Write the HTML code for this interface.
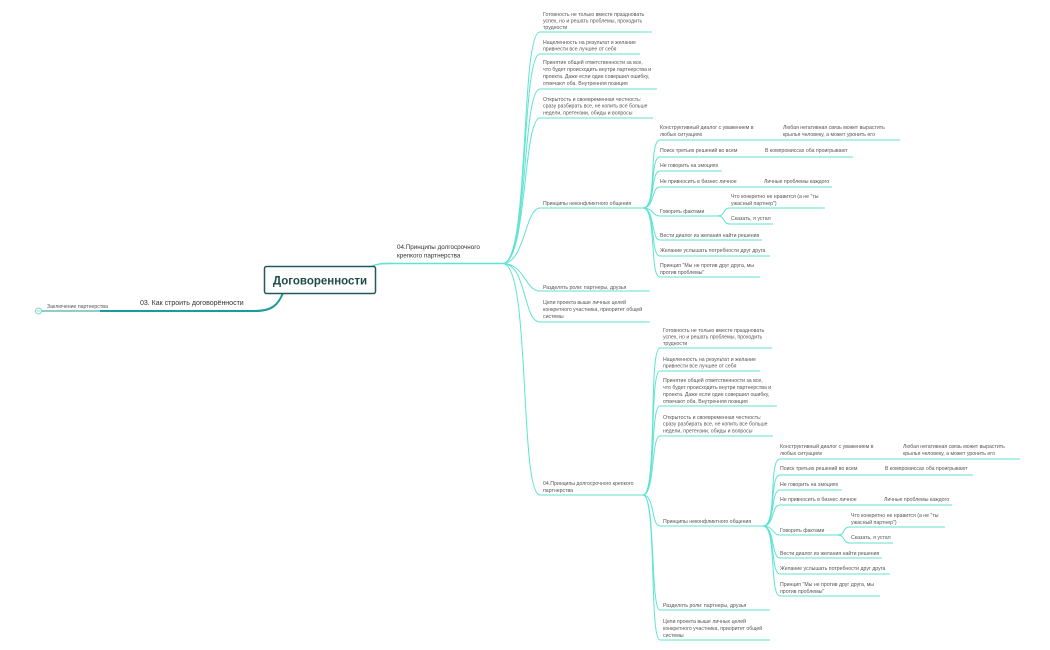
<!DOCTYPE html>
<html><head><meta charset="utf-8"><style>
html,body{margin:0;padding:0;background:#fff;}
svg{display:block;}
text{font-family:"Liberation Sans",sans-serif;}
.t{font-size:5.2px;fill:#555;}
.u{stroke:#5fe3d2;stroke-width:1;fill:none;}
</style></head><body>
<svg width="1050" height="650" viewBox="0 0 1050 650" xmlns="http://www.w3.org/2000/svg">
<!-- left -->
<path d="M283 293 C278 305 272 311 255 311 L100 311" stroke="#1b9c98" stroke-width="2" fill="none"/>
<path d="M100 311 L42 311" stroke="#1b9c98" stroke-width="1" fill="none"/>
<circle cx="38.5" cy="311" r="3" fill="#fff" stroke="#5fc9c0" stroke-width="0.8"/>
<line x1="36.5" y1="311" x2="40.5" y2="311" stroke="#5fc9c0" stroke-width="0.7"/>
<text x="47" y="308" class="t">Заключение партнерства</text>
<text x="140" y="305" style="font-size:7px;fill:#333">03. Как строить договорённости</text>
<!-- center -->
<path d="M372 266 C380 263 385 263.5 395 263.5 L503 263.5" stroke="#5fe3d2" stroke-width="1.6" fill="none"/>
<rect x="264.5" y="266.5" width="111" height="27" rx="2" fill="#fff" stroke="#23595a" stroke-width="1.5"/>
<text x="320" y="284.5" text-anchor="middle" style="font-size:11.5px;font-weight:bold;fill:#1f4a4a">Договоренности</text>
<text x="397" y="249" style="font-size:6.3px;fill:#333">04.Принципы долгосрочного</text>
<text x="397" y="257.5" style="font-size:6.3px;fill:#333">крепкого партнерства</text>

<!-- block 1 branches -->
<g class="u">
<path d="M503 263.5 C530 263 520 32 540 32 L652 32"/>
<path d="M503 263.5 C529 263 521 54 540 54 L640 54"/>
<path d="M503 263.5 C528 263 522 89 540 89 L657 89"/>
<path d="M503 263.5 C527 263 523 118 540 118 L653 118"/>
<path d="M503 263.5 C525 263 525 208 540 208 L643 208"/>
<path d="M503 263.5 C525 264 525 291 540 291 L650 291"/>
<path d="M503 263.5 C527 264 523 322 540 322 L650 322"/>
<path d="M503 263.5 C531 264 519 495 540 495 L643 495"/>
</g>
<g class="t">
<text x="543" y="16">Готовность не только вместе праздновать</text>
<text x="543" y="22.5">успех, но и решать проблемы, проходить</text>
<text x="543" y="29">трудности</text>
<text x="543" y="44">Нацеленность на результат и желание</text>
<text x="543" y="50.5">привнести все лучшее от себя</text>
<text x="543" y="64">Принятие общей ответственности за все,</text>
<text x="543" y="71">что будет происходить внутри партнерства и</text>
<text x="543" y="78">проекта. Даже если один совершил ошибку,</text>
<text x="543" y="85">отвечают оба. Внутренняя позиция</text>
<text x="543" y="101">Открытость и своевременная честность:</text>
<text x="543" y="107.5">сразу разбирать все, не копить все больше</text>
<text x="543" y="114.5">недели, претензии, обиды и вопросы</text>
<text x="543" y="205">Принципы неконфликтного общения</text>
<text x="543" y="289">Разделять роли: партнеры, друзья</text>
<text x="543" y="304">Цели проекта выше личных целей</text>
<text x="543" y="311">конкретного участника, приоритет общей</text>
<text x="543" y="318">системы</text>
<text x="543" y="485">04.Принципы долгосрочного крепкого</text>
<text x="543" y="492">партнерства</text>
</g>
<!-- block 1 sub -->
<g class="u">
<path d="M643 208 C658 208 648 140 660 140 L900 140"/>
<path d="M643 208 C657 208 649 157 660 157 L853 157"/>
<path d="M643 208 C656 208 650 171 660 171 L722 171"/>
<path d="M643 208 C655 208 651 187 660 187 L832 187"/>
<path d="M643 208 C654 208 652 216 660 216 L717 216"/>
<path d="M643 208 C655 208 651 240 660 240 L762 240"/>
<path d="M643 208 C656 208 650 256 660 256 L770 256"/>
<path d="M643 208 C657 208 649 277 660 277 L760 277"/>
<path d="M717 216 C726 216 722 208 730 208 L825 208"/>
<path d="M717 216 C726 216 722 224 730 224 L773 224"/>
</g>
<g class="t">
<text x="660" y="129">Конструктивный диалог с уважением в</text>
<text x="660" y="136">любых ситуациях</text>
<text x="783" y="129">Любая негативная связь может вырастить</text>
<text x="783" y="136">крылья человеку, а может уронить его</text>
<text x="660" y="152">Поиск третьих решений во всем</text>
<text x="765" y="152">В компромиссах оба проигрывают</text>
<text x="660" y="167">Не говорить на эмоциях</text>
<text x="660" y="183">Не привносить в бизнес личное</text>
<text x="764" y="183">Личные проблемы каждого</text>
<text x="660" y="213">Говорить фактами</text>
<text x="731" y="198">Что конкретно не нравится (а не "ты</text>
<text x="731" y="205">ужасный партнер")</text>
<text x="731" y="220">Сказать, я устал</text>
<text x="660" y="237">Вести диалог из желания найти решения</text>
<text x="660" y="252">Желание услышать потребности друг друга</text>
<text x="660" y="267">Принцип "Мы не против друг друга, мы</text>
<text x="660" y="274">против проблемы"</text>
</g>

<!-- block 2 -->
<g class="u">
<path d="M643 495 C658 495 648 348 660 348 L772 348"/>
<path d="M643 495 C657 495 649 371 660 371 L760 371"/>
<path d="M643 495 C656 495 650 406 660 406 L777 406"/>
<path d="M643 495 C655 495 651 436 660 436 L773 436"/>
<path d="M643 495 C655 495 651 526 660 526 L763 526"/>
<path d="M643 495 C656 495 650 610 660 610 L770 610"/>
<path d="M643 495 C657 495 649 640 660 640 L770 640"/>
</g>
<g class="t">
<text x="663" y="332">Готовность не только вместе праздновать</text>
<text x="663" y="338.5">успех, но и решать проблемы, проходить</text>
<text x="663" y="345">трудности</text>
<text x="663" y="361">Нацеленность на результат и желание</text>
<text x="663" y="367.5">привнести все лучшее от себя</text>
<text x="663" y="382">Принятие общей ответственности за все,</text>
<text x="663" y="389">что будет происходить внутри партнерства и</text>
<text x="663" y="396">проекта. Даже если один совершил ошибку,</text>
<text x="663" y="403">отвечают оба. Внутренняя позиция</text>
<text x="663" y="419">Открытость и своевременная честность:</text>
<text x="663" y="425.5">сразу разбирать все, не копить все больше</text>
<text x="663" y="432.5">недели, претензии, обиды и вопросы</text>
<text x="663" y="523">Принципы неконфликтного общения</text>
<text x="663" y="607">Разделять роли: партнеры, друзья</text>
<text x="663" y="623">Цели проекта выше личных целей</text>
<text x="663" y="630">конкретного участника, приоритет общей</text>
<text x="663" y="637">системы</text>
</g>
<g class="u">
<path d="M763 526 C778 526 768 459 780 459 L1020 459"/>
<path d="M763 526 C777 526 769 475 780 475 L973 475"/>
<path d="M763 526 C776 526 770 490 780 490 L842 490"/>
<path d="M763 526 C775 526 771 505 780 505 L952 505"/>
<path d="M763 526 C774 526 772 535 780 535 L837 535"/>
<path d="M763 526 C775 526 771 558 780 558 L882 558"/>
<path d="M763 526 C776 526 770 574 780 574 L890 574"/>
<path d="M763 526 C777 526 769 596 780 596 L880 596"/>
<path d="M837 535 C846 535 842 527 850 527 L945 527"/>
<path d="M837 535 C846 535 842 543 850 543 L893 543"/>
</g>
<g class="t">
<text x="780" y="448">Конструктивный диалог с уважением в</text>
<text x="780" y="455">любых ситуациях</text>
<text x="903" y="448">Любая негативная связь может вырастить</text>
<text x="903" y="455">крылья человеку, а может уронить его</text>
<text x="780" y="470">Поиск третьих решений во всем</text>
<text x="885" y="470">В компромиссах оба проигрывают</text>
<text x="780" y="486">Не говорить на эмоциях</text>
<text x="780" y="501">Не привносить в бизнес личное</text>
<text x="884" y="501">Личные проблемы каждого</text>
<text x="780" y="532">Говорить фактами</text>
<text x="851" y="517">Что конкретно не нравится (а не "ты</text>
<text x="851" y="524">ужасный партнер")</text>
<text x="851" y="539">Сказать, я устал</text>
<text x="780" y="555">Вести диалог из желания найти решения</text>
<text x="780" y="570">Желание услышать потребности друг друга</text>
<text x="780" y="586">Принцип "Мы не против друг друга, мы</text>
<text x="780" y="593">против проблемы"</text>
</g>
</svg>
</body></html>
